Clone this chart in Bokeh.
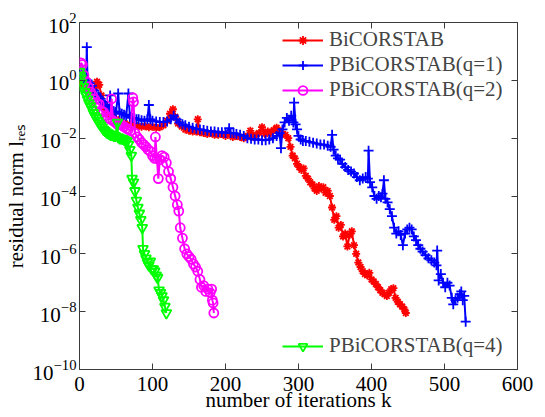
from bokeh.plotting import figure
from bokeh.models import Legend, LegendItem, FixedTicker, LinearAxis, LogAxis, Range1d
from bokeh.embed import file_html
from bokeh.resources import INLINE

# ---------------- data ----------------
x_ticks = [0, 100, 200, 300, 400, 500, 600]
y_ticks = [1e-10, 1e-8, 1e-6, 1e-4, 1e-2, 1e0, 1e2]

red_k = [0, 3, 6, 9, 12, 15, 18, 21, 24, 27, 30, 33, 36, 40, 45, 50, 55, 60, 65, 70,
         75, 80, 85, 90, 95, 100, 105, 110, 115, 120, 124, 128, 131, 135, 140, 145, 150,
         155, 160, 162, 165, 170, 175, 180, 185, 190, 195, 200, 205, 210, 215, 220, 225,
         230, 234, 238, 242, 246, 250, 254, 258, 262, 266, 270, 274, 278, 282, 286, 289,
         292, 295, 298, 301, 304, 307, 310, 313, 316, 319, 322, 325, 328, 331, 334, 337,
         340, 343, 346, 349, 352, 355, 358, 361, 364, 367, 370, 373, 376, 379, 382, 385,
         388, 391, 394, 397, 400, 403, 406, 409, 412, 415, 418, 421, 424, 427, 430, 433,
         436, 439, 442, 445, 447]
red_v = [1.0e0, 8.0e-1, 6.5e-1, 5.5e-1, 6.0e-1, 5.0e-1, 4.5e-1, 5.5e-1, 9.0e-1, 7.0e-1,
         3.0e-1, 1.5e-1, 1.0e-1, 7.0e-2, 5.5e-2, 4.5e-2, 3.8e-2, 3.3e-2, 3.0e-2, 2.8e-2,
         2.7e-2, 2.6e-2, 2.5e-2, 2.6e-2, 2.4e-2, 2.5e-2, 2.3e-2, 2.4e-2, 2.8e-2, 4.0e-2,
         7.0e-2, 1.0e-1, 5.5e-2, 3.2e-2, 2.5e-2, 2.0e-2, 1.8e-2, 1.7e-2, 1.7e-2, 4.5e-2,
         1.6e-2, 1.5e-2, 1.4e-2, 1.5e-2, 1.3e-2, 1.3e-2, 1.4e-2, 1.2e-2, 1.3e-2, 1.1e-2,
         1.2e-2, 1.1e-2, 1.0e-2, 1.2e-2, 1.8e-2, 1.1e-2, 1.3e-2, 1.5e-2, 2.4e-2, 1.4e-2,
         1.7e-2, 1.5e-2, 1.9e-2, 2.3e-2, 1.8e-2, 1.4e-2, 1.3e-2, 1.0e-2, 5.0e-3, 2.5e-3,
         2.0e-3, 1.3e-3, 1.0e-3, 8.0e-4, 9.0e-4, 5.0e-4, 4.0e-4, 3.0e-4, 2.5e-4, 1.8e-4,
         1.5e-4, 2.2e-4, 1.8e-4, 2.0e-4, 1.3e-4, 1.5e-4, 1.0e-4, 4.0e-5, 1.5e-5, 2.0e-5,
         8.0e-6, 1.0e-5, 4.0e-6, 5.0e-6, 1.8e-6, 4.5e-6, 6.0e-6, 2.0e-6, 1.0e-6, 5.0e-7,
         3.5e-7, 2.5e-7, 2.0e-7, 1.8e-7, 2.2e-7, 1.3e-7, 1.1e-7, 9.0e-8, 7.0e-8, 5.5e-8,
         4.5e-8, 4.0e-8, 3.5e-8, 4.5e-8, 6.0e-8, 6.5e-8, 3.0e-8, 2.2e-8, 1.8e-8, 1.5e-8,
         1.2e-8, 9.0e-9]

blue_k = [0, 3, 6, 9, 10, 11, 14, 17, 20, 23, 26, 29, 32, 35, 38, 41, 42, 44, 47, 50,
          53, 55, 58, 61, 64, 67, 69, 72, 75, 78, 81, 85, 89, 93, 95, 97, 100, 105, 110,
          115, 120, 125, 129, 133, 137, 141, 145, 150, 155, 160, 165, 170, 175, 180, 185,
          190, 195, 200, 205, 207, 211, 215, 220, 225, 230, 235, 240, 245, 250, 255, 260,
          265, 270, 274, 276, 278, 281, 284, 287, 290, 293, 294, 296, 298, 300, 303, 306,
          310, 315, 320, 325, 330, 335, 340, 344, 346, 348, 351, 354, 357, 360, 364, 368,
          372, 376, 380, 384, 388, 392, 395, 396, 398, 401, 404, 407, 410, 413, 415, 417,
          419, 422, 425, 428, 431, 434, 437, 440, 443, 446, 449, 452, 455, 458, 461, 464,
          467, 470, 474, 478, 482, 486, 489, 490, 492, 495, 498, 501, 504, 507, 510, 512,
          515, 518, 521, 523, 525, 527, 529]
blue_v = [1.5e0, 2.0e0, 1.2e0, 9.0e-1, 1.4e1, 1.0e0, 8.0e-1, 6.5e-1, 4.5e-1, 3.5e-1,
          2.8e-1, 2.3e-1, 1.8e-1, 1.4e-1, 1.2e-1, 1.0e-1, 3.0e-1, 9.0e-2, 8.5e-2, 8.0e-2,
          3.5e-1, 7.5e-2, 7.0e-2, 6.5e-2, 6.0e-2, 3.5e-1, 5.5e-2, 5.0e-2, 5.0e-2, 4.5e-2,
          4.5e-2, 4.2e-2, 4.0e-2, 4.5e-2, 1.4e-1, 4.5e-2, 4.0e-2, 3.8e-2, 3.6e-2, 3.6e-2,
          3.8e-2, 4.5e-2, 6.0e-2, 4.5e-2, 3.5e-2, 3.0e-2, 2.8e-2, 2.5e-2, 2.3e-2, 2.1e-2,
          2.0e-2, 1.9e-2, 1.8e-2, 1.7e-2, 1.7e-2, 1.6e-2, 1.6e-2, 1.5e-2, 2.2e-2, 1.5e-2,
          1.5e-2, 1.4e-2, 1.3e-2, 1.2e-2, 1.0e-2, 9.5e-3, 9.0e-3, 9.0e-3, 8.5e-3, 8.5e-3,
          9.0e-3, 1.0e-2, 1.2e-2, 1.5e-2, 4.5e-3, 2.0e-2, 3.5e-2, 5.0e-2, 4.0e-2, 6.0e-2,
          3.5e-2, 1.7e-1, 3.0e-2, 2.0e-2, 1.2e-2, 9.0e-3, 8.0e-3, 8.0e-3, 7.5e-3, 7.0e-3,
          6.5e-3, 6.0e-3, 6.0e-3, 5.5e-3, 5.0e-3, 1.3e-2, 4.0e-3, 2.5e-3, 2.0e-3, 1.8e-3,
          1.3e-3, 1.0e-3, 8.0e-4, 7.0e-4, 6.0e-4, 4.5e-4, 3.5e-4, 4.0e-4, 4.5e-4, 4.0e-4,
          3.7e-3, 3.0e-4, 2.0e-4, 1.0e-4, 8.0e-5, 1.0e-4, 9.0e-5, 1.2e-4, 3.5e-4, 8.0e-5,
          6.0e-5, 3.5e-5, 2.0e-5, 8.0e-6, 5.0e-6, 6.0e-6, 4.5e-6, 2.0e-6, 5.0e-6, 7.0e-6,
          8.0e-6, 7.0e-6, 4.0e-6, 3.0e-6, 2.0e-6, 1.5e-6, 1.2e-6, 9.0e-7, 7.0e-7, 6.0e-7,
          5.0e-7, 4.0e-7, 1.3e-6, 1.2e-7, 2.0e-7, 1.0e-7, 7.0e-8, 1.0e-7, 8.0e-8, 3.0e-8,
          1.8e-8, 2.5e-8, 3.0e-8, 4.0e-8, 5.0e-8, 2.5e-8, 3.5e-8, 4.5e-9]

mag_k = [0, 2, 4, 6, 9, 12, 15, 18, 21, 24, 27, 30, 33, 36, 39, 42, 44, 46, 49, 52, 55,
         58, 61, 64, 67, 70, 73, 74, 76, 79, 82, 85, 88, 91, 94, 97, 100, 103, 104, 106,
         108, 110, 113, 116, 119, 122, 125, 128, 131, 134, 136, 138, 141, 144, 147, 150,
         153, 156, 159, 162, 165, 167, 170, 173, 176, 179, 181, 182, 183, 184]
mag_v = [2.5e0, 4.0e0, 3.5e0, 1.5e0, 9.0e-1, 6.0e-1, 4.0e-1, 3.0e-1, 2.2e-1, 1.6e-1,
         1.5e-1, 9.0e-2, 8.0e-2, 6.0e-2, 5.0e-2, 4.5e-2, 2.3e-1, 4.0e-2, 3.5e-2, 3.0e-2,
         3.0e-2, 2.8e-2, 2.5e-2, 2.2e-2, 2.0e-2, 1.8e-2, 2.5e-1, 1.8e-1, 1.5e-2, 1.1e-2,
         9.0e-3, 7.0e-3, 6.0e-3, 5.0e-3, 4.0e-3, 3.5e-3, 2.5e-3, 2.0e-3, 1.1e-2, 2.0e-3,
         4.0e-4, 1.8e-3, 2.5e-3, 2.2e-3, 1.4e-3, 7.0e-4, 4.0e-4, 2.0e-4, 1.0e-4, 5.0e-5,
         3.0e-5, 8.0e-6, 3.5e-6, 1.5e-6, 1.0e-6, 8.0e-7, 6.5e-7, 4.5e-7, 3.5e-7, 2.5e-7,
         1.3e-7, 7.0e-8, 8.0e-8, 5.0e-8, 6.0e-8, 4.5e-8, 6.0e-8, 2.5e-8, 2.0e-8, 9.0e-9]

grn_k = [0, 1, 2, 3, 5, 7, 9, 11, 13, 15, 17, 19, 21, 23, 25, 27, 29, 31, 33, 35, 37,
         39, 41, 43, 45, 47, 49, 52, 53, 55, 57, 59, 61, 63, 65, 67, 69, 71, 72, 74, 76,
         78, 80, 82, 84, 86, 87, 89, 91, 93, 95, 97, 99, 101, 103, 105, 107, 109, 111,
         113, 115, 117, 119]
grn_v = [2.0e0, 1.5e0, 1.2e0, 8.0e-1, 6.0e-1, 4.0e-1, 3.0e-1, 2.2e-1, 1.6e-1, 1.3e-1,
         1.0e-1, 7.5e-2, 6.0e-2, 5.0e-2, 4.0e-2, 3.3e-2, 2.8e-2, 2.4e-2, 2.0e-2, 1.8e-2,
         1.6e-2, 1.5e-2, 1.4e-2, 1.3e-2, 1.3e-2, 1.2e-2, 1.2e-2, 3.5e-2, 1.1e-2, 1.0e-2,
         1.0e-2, 9.5e-3, 9.0e-3, 8.5e-3, 8.0e-3, 6.0e-3, 4.0e-3, 2.5e-3, 4.0e-4, 3.0e-4,
         1.5e-4, 7.0e-5, 4.0e-5, 2.5e-5, 1.5e-5, 8.0e-6, 1.5e-6, 1.0e-6, 7.0e-7, 5.0e-7,
         4.0e-7, 5.5e-7, 3.0e-7, 3.0e-7, 2.5e-7, 1.8e-7, 1.5e-7, 5.5e-8, 4.5e-8, 3.5e-8,
         2.5e-8, 1.5e-8, 9.0e-9]

names = ["BiCORSTAB", "PBiCORSTAB(q=1)", "PBiCORSTAB(q=2)", "PBiCORSTAB(q=4)"]
x_title = "number of iterations k"
y_title = "residual norm l\u1d63\u2091\u209b"

# ---------------- figure ----------------
FONT = "Liberation Serif"
FRAME = "#3a3a3a"

p = figure(width=545, height=417, x_range=Range1d(0, 600), y_range=Range1d(1e-10, 1e2),
           y_axis_type="log", output_backend="svg", toolbar_location=None,
           min_border_left=79, min_border_right=28, min_border_top=22, min_border_bottom=48)
p.background_fill_color = "white"
p.border_fill_color = "white"
p.outline_line_color = FRAME
p.outline_line_width = 1
p.grid.visible = False

def style_axis(ax, ticks, show_labels):
    ax.axis_line_color = None
    ax.major_tick_in = 6
    ax.major_tick_out = 0
    ax.minor_tick_in = 0
    ax.minor_tick_out = 0
    ax.major_tick_line_color = FRAME
    ax.major_tick_line_width = 1
    ax.major_label_text_font = FONT
    ax.major_label_text_color = "black"
    ax.major_label_text_font_size = "21px"
    if not show_labels:
        ax.major_label_overrides = {t: "" for t in ticks}
        ax.major_label_standoff = 0

p.xaxis.ticker = FixedTicker(ticks=x_ticks, minor_ticks=[])
p.yaxis.ticker = FixedTicker(ticks=y_ticks, minor_ticks=[])
style_axis(p.xaxis[0], x_ticks, True)
style_axis(p.yaxis[0], y_ticks, True)
p.xaxis.major_label_standoff = 7
p.yaxis.major_label_standoff = 3

p.xaxis.axis_label = x_title
p.yaxis.axis_label = y_title
for ax in (p.xaxis[0], p.yaxis[0]):
    ax.axis_label_text_font = FONT
    ax.axis_label_text_font_size = "21px"
    ax.axis_label_text_font_style = "normal"
    ax.axis_label_text_color = "black"
p.xaxis.axis_label_standoff = -6
p.yaxis.axis_label_standoff = 2

top = LinearAxis(ticker=FixedTicker(ticks=x_ticks, minor_ticks=[]))
right = LogAxis(ticker=FixedTicker(ticks=y_ticks, minor_ticks=[]))
style_axis(top, x_ticks, False)
style_axis(right, y_ticks, False)
p.add_layout(top, "above")
p.add_layout(right, "right")

# ---------------- series ----------------
series = [
    (red_k, red_v, "#ff0000", "asterisk", 8),
    (blue_k, blue_v, "#0000ff", "cross", 10),
    (mag_k, mag_v, "#ff00ff", "circle", 9),
    (grn_k, grn_v, "#00ff00", "inverted_triangle", 10),
]
rends = []
for (k, v, c, m, s) in series:
    l = p.line(k, v, line_color=c, line_width=2)
    sc = p.scatter(k, v, marker=m, size=s, line_color=c, fill_color=None, line_width=1.8)
    rends.append([l, sc])

def make_legend(idx, loc):
    lg = Legend(items=[LegendItem(label=names[i], renderers=rends[i]) for i in idx],
                location=loc, background_fill_alpha=0, border_line_alpha=0,
                label_text_font=FONT, label_text_font_size="21px",
                glyph_width=41, glyph_height=22, label_height=22, label_standoff=6,
                spacing=0, padding=1, margin=0)
    return lg

p.add_layout(make_legend([0, 1, 2], (202, 266)), "center")
p.add_layout(make_legend([3], (202, 10)), "center")

open("out.html", "w").write(file_html(p, INLINE))
